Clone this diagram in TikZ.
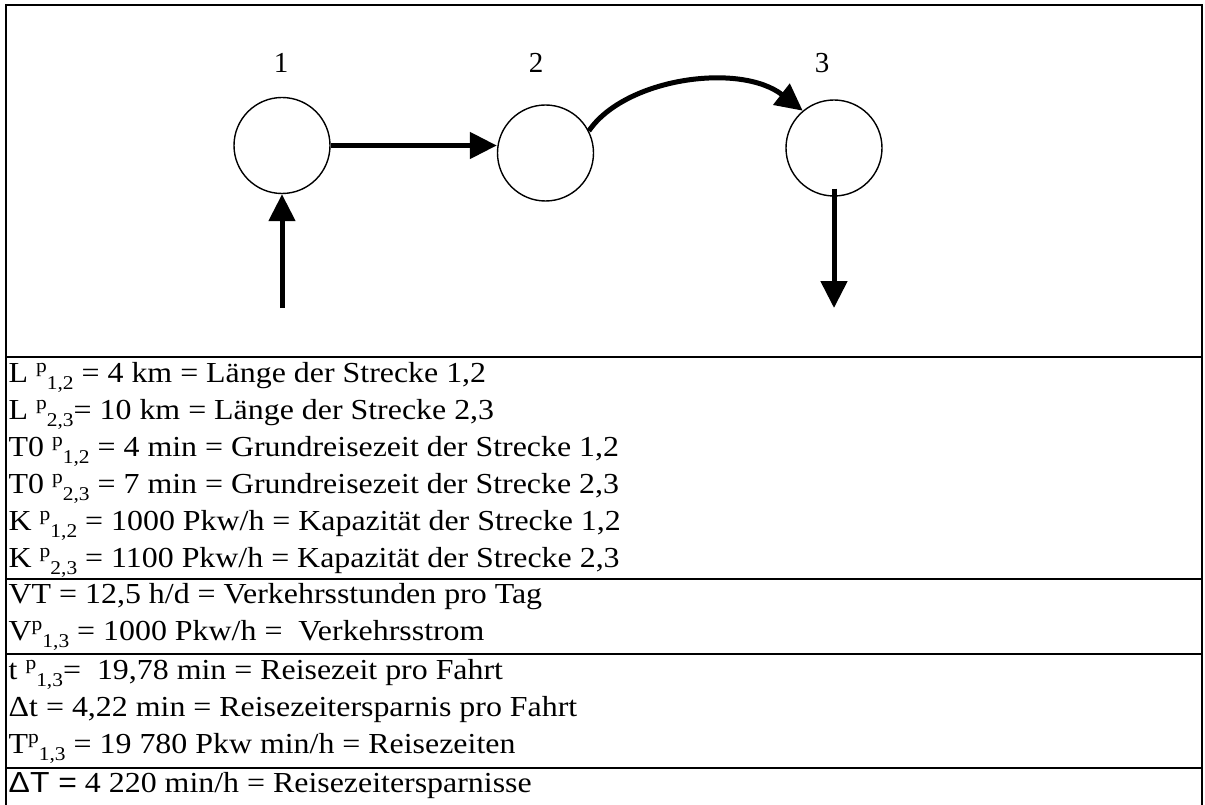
\documentclass[tikz,border=0pt]{standalone}
\usepackage{fontspec}
\setmainfont{Liberation Serif}
\newfontfamily\arialfont{Liberation Sans}
\usetikzlibrary{arrows.meta}
\newcommand\spsb[2]{\raisebox{0.33em}{\fontsize{19.5}{19.5}\selectfont #1}\raisebox{-0.27em}{\fontsize{19.5}{19.5}\selectfont #2}}
\newcommand\wide[1]{\scalebox{1.1}[1]{#1}}
\begin{document}
\begin{tikzpicture}[x=1pt,y=-1pt,
  frame/.style={line width=2pt,line cap=rect},
  station/.style={circle,draw,line width=1.4pt,minimum size=96pt,inner sep=0pt},
  flow/.style={line width=5pt,-{Triangle[length=27pt,width=26pt]}},
  num/.style={font=\fontsize{29}{29}\selectfont,anchor=base,inner sep=0pt},
  row/.style={font=\fontsize{29}{30}\selectfont,anchor=base west,inner sep=0pt}]
\useasboundingbox (0,0) rectangle (1205,805);
% frame
\draw[frame] (6,806) -- (6,5) -- (1202,5) -- (1202,806);
\foreach \yy in {357,579,654,768} \draw[frame] (6,\yy) -- (1202,\yy);
% stations
\node[station] (c1) at (282,145.5) {};
\node[station] (c2) at (545.5,153) {};
\node[station] (c3) at (834,148) {};
\node[num] (l1) at (281,73) {1};
\node[num] (l2) at (536,73) {2};
\node[num] (l3) at (822,73) {3};
\coordinate (in1) at (282,308);
\coordinate (out3) at (834,308);
\draw[flow] (in1) -- (c1.south);
\draw[flow] (c1.east) -- (c1.east -| c2.west);
\draw[flow] (c2.27) .. controls (625,78) and (740,62) .. (c3.130);
\draw[flow,shorten <=-8pt] (c3.south) -- (out3);
% text rows
\node[row] (r1) at (8.5,382) {\wide{L \spsb{p}{1,2} = 4 km = Länge der Strecke 1,2}};
\node[row] (r2) at (8.5,419) {\wide{L \spsb{p}{2,3}= 10 km = Länge der Strecke 2,3}};
\node[row] (r3) at (8.5,456) {\wide{T0 \spsb{p}{1,2} = 4 min = Grundreisezeit der Strecke 1,2}};
\node[row] (r4) at (8.5,493) {\wide{T0 \spsb{p}{2,3} = 7 min = Grundreisezeit der Strecke 2,3}};
\node[row] (r5) at (8.5,530) {\wide{K \spsb{p}{1,2} = 1000 Pkw/h = Kapazität der Strecke 1,2}};
\node[row] (r6) at (8.5,567) {\wide{K \spsb{p}{2,3} = 1100 Pkw/h = Kapazität der Strecke 2,3}};
\node[row] (r7) at (8.5,603) {\wide{VT = 12,5 h/d = Verkehrsstunden pro Tag}};
\node[row] (r8) at (8.5,640) {\wide{V\spsb{p}{1,3} = 1000 Pkw/h =\ \ Verkehrsstrom}};
\node[row] (r9) at (8.5,679) {\wide{t \spsb{p}{1,3}=\ \ 19,78 min = Reisezeit pro Fahrt}};
\node[row] (r10) at (8.5,716) {\wide{Δt = 4,22 min = Reisezeitersparnis pro Fahrt}};
\node[row] (r11) at (8.5,753) {\wide{T\spsb{p}{1,3} = 19 780 Pkw min/h = Reisezeiten}};
\node[row] (r12) at (8.5,792) {\wide{{\arialfont ΔT =} 4 220 min/h = Reisezeitersparnisse}};
\end{tikzpicture}
\end{document}
